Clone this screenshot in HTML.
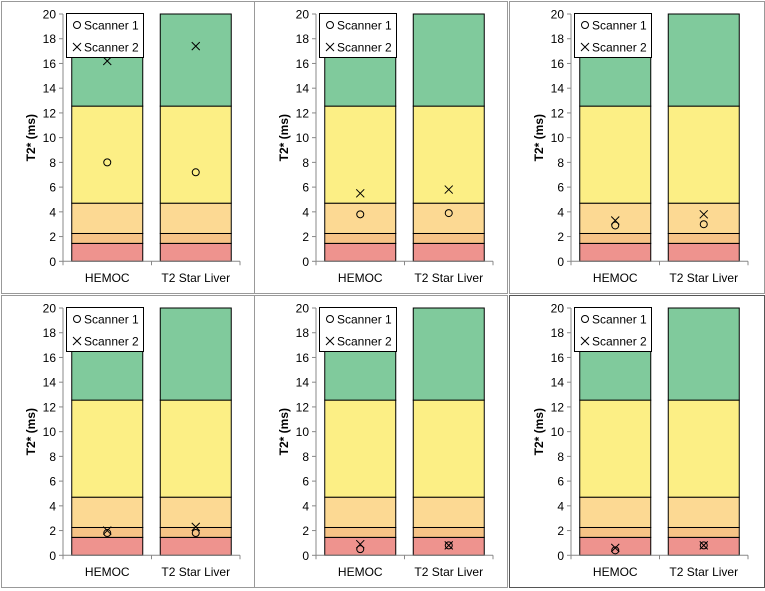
<!DOCTYPE html>
<html><head><meta charset="utf-8"><style>
html,body{margin:0;padding:0;background:#fff;}
svg{display:block;font-family:"Liberation Sans",sans-serif;}
</style></head><body>
<svg id="c" width="765" height="591" viewBox="0 0 765 591" xmlns="http://www.w3.org/2000/svg"></svg>
<script>
const categories = ["HEMOC", "T2 Star Liver"];
const bandEdges = [0, 1.45, 2.25, 4.7, 12.55, 20];
const bandColors = ["#EE938E", "#F6C386", "#FCD993", "#FCEF85", "#80CA9C"];
const yTicks = [0, 2, 4, 6, 8, 10, 12, 14, 16, 18, 20];
const scanner1 = [[8.0, 7.2], [3.8, 3.9], [2.9, 3.0], [1.8, 1.8], [0.5, 0.8], [0.4, 0.8]];
const scanner2 = [[16.2, 17.4], [5.5, 5.8], [3.3, 3.8], [2.0, 2.3], [0.9, 0.8], [0.6, 0.8]];

const svg = document.getElementById('c');
const NS = 'http://www.w3.org/2000/svg';
function mk(tag, attrs, parent) {
  const e = document.createElementNS(NS, tag);
  for (const k in attrs) e.setAttribute(k, attrs[k]);
  (parent || svg).appendChild(e);
  return e;
}
const colX = [0, 253, 508];
const rowY = [0, 294];
const yMax = 20;

for (let p = 0; p < 6; p++) {
  const ox = colX[p % 3], oy = rowY[Math.floor(p / 3)];
  const g = mk('g', {});
  
  
  const border = mk('rect', {x: ox + 1.5, y: oy + 1.5, width: (p % 3 === 2 ? 255 : 253), height: 292, fill: '#fff', stroke: p === 5 ? '#555' : '#999', 'stroke-width': 1}, g);
  
  
  const x0 = ox + 63, x1 = ox + 240;
  const yTop = oy + 14, yBot = oy + 261.3;
  const yS = v => yBot - (v / yMax) * (yBot - yTop);
  const catW = (x1 - x0) / categories.length;
  const xC = i => x0 + catW * (i + 0.5);
  const barW = 71;
  // bars
  categories.forEach((c, i) => {
    for (let b = 0; b < bandColors.length; b++) {
      const r = mk('rect', {x: xC(i) - barW / 2, y: yS(bandEdges[b + 1]), width: barW, height: yS(bandEdges[b]) - yS(bandEdges[b + 1]), fill: bandColors[b], stroke: '#000', 'stroke-width': 1}, g);
      
      
    }
    const t = mk('text', {x: xC(i), y: oy + 282, 'font-size': 12, 'text-anchor': 'middle', fill: '#000'}, g);
    t.textContent = c;
    
    
  });
  // axes
  const ya = mk('line', {x1: x0, y1: yTop, x2: x0, y2: yBot, stroke: '#888', 'stroke-width': 1}, g);
  
  
  const xa = mk('line', {x1: x0, y1: yBot, x2: x1, y2: yBot, stroke: '#888', 'stroke-width': 1}, g);
  
  
  for (let i = 0; i <= categories.length; i++) {
    mk('line', {x1: x0 + catW * i, y1: yBot, x2: x0 + catW * i, y2: yBot + 4, stroke: '#888'}, g);
  }
  yTicks.forEach(v => {
    mk('line', {x1: x0 - 4, y1: yS(v), x2: x0, y2: yS(v), stroke: '#888'}, g);
    const t = mk('text', {x: x0 - 7, y: yS(v) + 4.5, 'font-size': 12, 'text-anchor': 'end', fill: '#000'}, g);
    t.textContent = v;
    
    
  });
  const yt = mk('text', {x: 0, y: 0, 'font-size': 12, 'font-weight': 'bold', 'text-anchor': 'middle', transform: 'translate(' + (ox + 35) + ',' + ((yTop + yBot) / 2) + ') rotate(-90)'}, g);
  yt.textContent = 'T2* (ms)';
  
  
  // points
  categories.forEach((c, i) => {
    const cx = xC(i);
    const c1 = mk('circle', {cx: cx, cy: yS(scanner1[p][i]), r: 3.5, fill: 'none', stroke: '#000', 'stroke-width': 1}, g);
    
    
    const yy = yS(scanner2[p][i]);
    const xp = mk('path', {d: 'M' + (cx - 4) + ' ' + (yy - 4) + 'L' + (cx + 4) + ' ' + (yy + 4) + 'M' + (cx + 4) + ' ' + (yy - 4) + 'L' + (cx - 4) + ' ' + (yy + 4), stroke: '#000', 'stroke-width': 1, fill: 'none'}, g);
    
    
  });
  // legend
  const lg = mk('g', {}, g);
  
  
  mk('rect', {x: ox + 66.5, y: oy + 13.5, width: 77, height: 44, fill: '#fff', stroke: '#000'}, lg);
  mk('circle', {cx: ox + 77, cy: oy + 25, r: 3.5, fill: 'none', stroke: '#000'}, lg);
  const l1 = mk('text', {x: ox + 84, y: oy + 29.5, 'font-size': 12}, lg);
  l1.textContent = 'Scanner 1';
  
  
  mk('path', {d: 'M' + (ox + 73) + ' ' + (oy + 43) + 'l8 8m0 -8l-8 8', stroke: '#000', fill: 'none'}, lg);
  const l2 = mk('text', {x: ox + 84, y: oy + 51.5, 'font-size': 12}, lg);
  l2.textContent = 'Scanner 2';
  
  
}
</script>
</body></html>
